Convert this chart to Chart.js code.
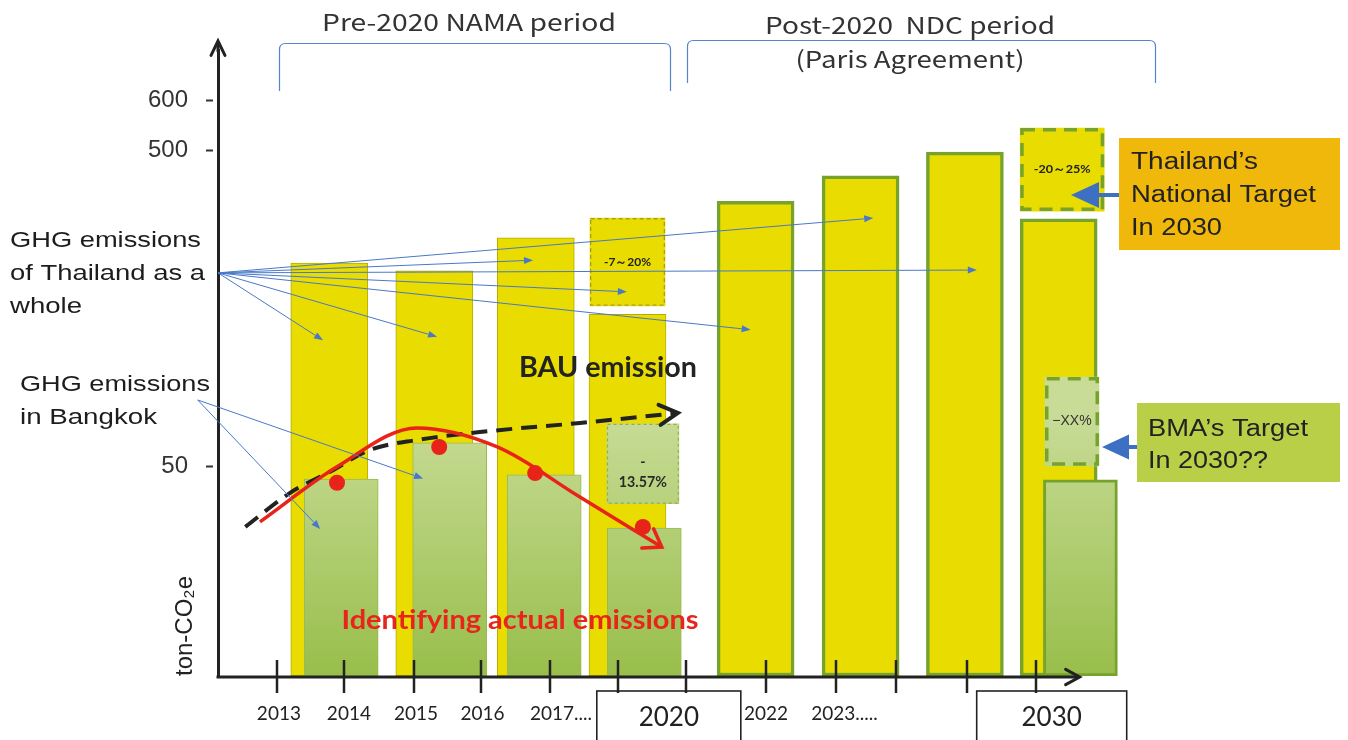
<!DOCTYPE html>
<html>
<head>
<meta charset="utf-8">
<title>GHG emissions: Thailand and Bangkok</title>
<script src="https://cdn.jsdelivr.net/npm/chart.js@4.4.1/dist/chart.umd.min.js"></script>
<style>
  html, body { margin: 0; padding: 0; background: #ffffff; }
  #chart { display: block; }
</style>
</head>
<body>
<canvas id="chart" width="1348" height="740"></canvas>
<script>
// ---------------- values ----------------
// Time axis: labels and tick marks, placed on a schematic "slot" scale
const yearLabels     = ['2013', '2014', '2015', '2016', '2017....', '2020', '2022', '2023.....', '2030'];
const yearLabelSlots = [0.87, 1.87, 2.83, 3.78, 4.9, 6.44, 7.83, 8.95, 11.91];
const yearTickSlots  = [0.84, 1.8, 2.8, 3.76, 4.74, 5.71, 6.69, 7.83, 8.83, 9.69, 10.7, 11.69];
const boxedYears     = ['2020', '2030'];

// Emission axis (ton-CO2e) tick values
const yTickValues = [50, 500, 600];

// GHG emissions of Thailand as a whole
const thaiSlots  = [1.59, 3.09, 4.54, 5.85, 7.68, 9.18, 10.67, 12.01];
const thaiValues = [339, 328, 375, 266, 427, 463, 497, 402];

// National reduction targets stacked above the 2020 and 2030 bars: [from, to]
const thaiTargetSlots  = [5.85, 12.06];
const thaiTargetRanges = [[278, 403], [413, 544]];
const thaiTargetLabels = ['-7～20%', '-20～25%'];

// GHG emissions in Bangkok
const bkkSlots  = [1.76, 3.31, 4.66, 6.09, 12.32];
const bkkValues = [46.9, 82.8, 47.9, 35.2, 46.7];

// Bangkok reduction targets: [from, to]
const bkkTargetSlots  = [6.07, 12.2];
const bkkTargetRanges = [[41, 110], [50.2, 176.7]];
const bkkTargetLabels = ['-\n13.57%', '−XX%'];

// BAU emission path
const bauSlots  = [0.39, 1.03, 1.6, 2.17, 2.84, 3.89, 5.17, 6.57];
const bauValues = [35.5, 43.6, 48.6, 72.8, 87, 99.8, 111.2, 125.5];

// Identified actual emissions (trend curve and measured points)
const actualTrendSlots  = [0.6, 1.7, 2.84, 3.99, 5.17, 6.34];
const actualTrendValues = [36.7, 49.8, 104.1, 77.1, 42.6, 30.7];
const actualSlots  = [1.7, 3.16, 4.53, 6.07];
const actualValues = [46, 77, 48.3, 35.5];

// Callout pointers (slot, emission) from the left-hand captions into the bars
const thaiPointerFrom = [0, 325];
const thaiPointerTo = [[1.5, 229], [3.13, 234], [4.5, 343], [5.84, 298], [7.61, 244], [9.36, 403], [10.84, 329]];
const bkkPointerFrom = [-0.29, 144];
const bkkPointerTo = [[1.46, 35], [2.93, 47]];

// ---------------- broken emission scale ----------------
// The emission axis is compressed above 50 and again above 500.
const Y_BREAK_VALUES = [0, 50, 500, 600, 700];
const Y_BREAK_FRACS  = [0, 0.3355, 0.8403, 0.9201, 1];

function piecewise(v, from, to) {
  for (let i = 1; i < from.length; i++) {
    if (v <= from[i] || i === from.length - 1) {
      const t = (v - from[i - 1]) / (from[i] - from[i - 1]);
      return to[i - 1] + t * (to[i] - to[i - 1]);
    }
  }
  return 0;
}

class BrokenLinearScale extends Chart.LinearScale {
  getPixelForValue(value) {
    return this.getPixelForDecimal(piecewise(value, Y_BREAK_VALUES, Y_BREAK_FRACS));
  }
  getValueForPixel(pixel) {
    return piecewise(this.getDecimalForPixel(pixel), Y_BREAK_FRACS, Y_BREAK_VALUES);
  }
}
BrokenLinearScale.id = 'brokenLinear';
BrokenLinearScale.defaults = {};
Chart.register(BrokenLinearScale);

// ---------------- helpers ----------------
const xy = (slots, values) => slots.map((x, i) => ({ x, y: values[i] }));

const YELLOW = '#e8dc00';
const PROJ_GREEN = '#77a22c';

function bangkokFill(context) {
  const chart = context.chart;
  const area = chart.chartArea;
  if (!area) return '#b0cc68';
  const g = chart.ctx.createLinearGradient(0, area.top + (area.bottom - area.top) * 0.58, 0, area.bottom);
  g.addColorStop(0, '#c8dc97');
  g.addColorStop(1, '#98be4b');
  return g;
}

// Draw text, optionally stretched horizontally to a given width
function drawText(c, text, x, y, font, color, align, width, sx) {
  c.save();
  c.font = font;
  c.fillStyle = color;
  c.textBaseline = 'middle';
  c.textAlign = align;
  let k = sx || 1;
  if (width) k = width / c.measureText(text).width;
  c.translate(x, y);
  c.scale(k, 1);
  c.fillText(text, 0, 0);
  c.restore();
}

function filledArrow(c, x1, y1, x2, y2, color, lw, headLen, headW) {
  const a = Math.atan2(y2 - y1, x2 - x1);
  const bx = x2 - headLen * Math.cos(a), by = y2 - headLen * Math.sin(a);
  c.save();
  c.strokeStyle = color; c.fillStyle = color; c.lineWidth = lw;
  c.beginPath(); c.moveTo(x1, y1); c.lineTo(bx, by); c.stroke();
  c.beginPath();
  c.moveTo(x2, y2);
  c.lineTo(bx + headW / 2 * Math.sin(a), by - headW / 2 * Math.cos(a));
  c.lineTo(bx - headW / 2 * Math.sin(a), by + headW / 2 * Math.cos(a));
  c.closePath(); c.fill();
  c.restore();
}

function chevron(c, x, y, ang, len, spread, color, lw) {
  c.save();
  c.strokeStyle = color; c.lineWidth = lw; c.lineCap = 'round'; c.lineJoin = 'miter';
  c.setLineDash([]);
  c.beginPath();
  c.moveTo(x + len * Math.cos(ang + Math.PI - spread), y + len * Math.sin(ang + Math.PI - spread));
  c.lineTo(x, y);
  c.lineTo(x + len * Math.cos(ang + Math.PI + spread), y + len * Math.sin(ang + Math.PI + spread));
  c.stroke();
  c.restore();
}

// ---------------- overlay plugin ----------------
const overlay = {
  id: 'overlay',
  afterDatasetDraw(chart, args) {
    const ds = chart.data.datasets[args.index];
    if (!ds.outline) return;
    const c = chart.ctx;
    const o = ds.outline;
    args.meta.data.forEach((el, i) => {
      const p = el.getProps(['x', 'y', 'base', 'width'], true);
      const top = Math.min(p.y, p.base), h = Math.abs(p.base - p.y);
      c.save();
      c.strokeStyle = o.color; c.lineWidth = o.width; c.setLineDash(o.dash);
      c.strokeRect(p.x - p.width / 2 + o.width / 2, top + o.width / 2, p.width - o.width, h - o.width);
      c.restore();
      if (ds.boxLabels && ds.boxLabels[i]) {
        const lines = ds.boxLabels[i].split('\n');
        const cy = top + h / 2 - (lines.length - 1) * o.lineGap / 2 + o.shift;
        lines.forEach((t, k) => drawText(c, t, p.x, cy + k * o.lineGap, o.font, o.textColor, 'center', null, o.stretch));
      }
    });
  },
  afterDraw(chart) {
    const c = chart.ctx;
    const xs = chart.scales.x, ys = chart.scales.y;
    const area = chart.chartArea;
    const px = s => xs.getPixelForValue(s);
    const py = v => ys.getPixelForValue(v);
    const axisY = area.bottom + 1;

    // time axis line with arrow
    c.save();
    c.strokeStyle = '#222'; c.lineWidth = 3;
    c.beginPath(); c.moveTo(area.left - 1.5, axisY); c.lineTo(px(12.3), axisY); c.stroke();
    c.restore();
    chevron(c, px(12.31), axisY, 0, 16, 0.5, '#222', 3);

    // emission axis extension with arrow
    c.save();
    c.strokeStyle = '#222'; c.lineWidth = 3;
    c.beginPath(); c.moveTo(area.left, area.top + 2); c.lineTo(area.left, area.top - 8); c.stroke();
    c.restore();
    chevron(c, area.left, area.top - 9, -Math.PI / 2, 16, 0.45, '#222', 3);

    // short dashes beside the emission tick labels
    c.save();
    c.strokeStyle = '#333'; c.lineWidth = 2;
    ys.ticks.forEach(t => {
      const y = Math.round(py(t.value)) + 0.5;
      c.beginPath(); c.moveTo(area.left - 12, y); c.lineTo(area.left - 5, y); c.stroke();
    });
    c.restore();

    // tick marks across the time axis
    c.save();
    c.strokeStyle = '#222'; c.lineWidth = 2.5;
    yearTickSlots.forEach(s => {
      const x = Math.round(px(s));
      c.beginPath(); c.moveTo(x, axisY - 17); c.lineTo(x, axisY + 16); c.stroke();
    });
    c.restore();

    // frames around the milestone years
    c.save();
    c.strokeStyle = '#222'; c.lineWidth = 1.6;
    yearLabels.forEach((lab, i) => {
      if (!boxedYears.includes(lab)) return;
      const cx = px(yearLabelSlots[i]);
      const half = lab === '2020' ? 72 : 75;
      c.strokeRect(cx - half, axisY + 14, half * 2, 60);
    });
    c.restore();

    // arrow heads at the ends of the BAU and actual-emission curves
    chart.data.datasets.forEach((ds, i) => {
      if (!ds.arrowHead) return;
      const pts = chart.getDatasetMeta(i).data;
      const last = pts[pts.length - 1];
      const prev = pts[pts.length - 2];
      const useCp = last.cp1x !== undefined && Math.abs(last.cp1x - last.x) > 0.5;
      const rx = useCp ? last.cp1x : prev.x;
      const ry = useCp ? last.cp1y : prev.y;
      const ang = Math.atan2(last.y - ry, last.x - rx);
      chevron(c, last.x, last.y, ang, ds.arrowHead.len, ds.arrowHead.spread, ds.borderColor, ds.arrowHead.width);
    });

    // thin callout pointers
    const BLUE = '#4a78c9';
    thaiPointerTo.forEach(([s, v]) =>
      filledArrow(c, px(thaiPointerFrom[0]), py(thaiPointerFrom[1]), px(s), py(v), BLUE, 1, 9, 7));
    bkkPointerTo.forEach(([s, v]) =>
      filledArrow(c, px(bkkPointerFrom[0]), py(bkkPointerFrom[1]), px(s), py(v), BLUE, 1, 9, 7));

    // period brackets along the top
    c.save();
    c.strokeStyle = '#5585cc'; c.lineWidth = 1.2;
    const bracket = (x1, x2, yTop, yBot) => {
      c.beginPath();
      c.moveTo(x1, yBot); c.lineTo(x1, yTop + 6);
      c.quadraticCurveTo(x1, yTop, x1 + 6, yTop);
      c.lineTo(x2 - 6, yTop);
      c.quadraticCurveTo(x2, yTop, x2, yTop + 6);
      c.lineTo(x2, yBot);
      c.stroke();
    };
    bracket(279.5, 670.5, 43.5, 91);
    bracket(687.5, 1155.5, 40.5, 83);
    c.restore();

    const JP = '"Noto Sans CJK JP", "Noto Sans", sans-serif';
    drawText(c, 'Pre-2020 NAMA period', 469, 22, '23px ' + JP, '#333', 'center', 294);
    drawText(c, 'Post-2020  NDC period', 910, 25, '23px ' + JP, '#333', 'center', 290);
    drawText(c, '(Paris Agreement)', 910, 59, '23px ' + JP, '#333', 'center', 229);

    // left-hand captions
    const SANS = '"Liberation Sans", Arial, sans-serif';
    drawText(c, 'GHG emissions', 10, 241, '22px ' + SANS, '#1d1d1d', 'left', 191);
    drawText(c, 'of Thailand as a', 10, 274, '22px ' + SANS, '#1d1d1d', 'left', 195);
    drawText(c, 'whole', 10, 307, '22px ' + SANS, '#1d1d1d', 'left', 72);
    drawText(c, 'GHG emissions', 20, 385, '22px ' + SANS, '#1d1d1d', 'left', 190);
    drawText(c, 'in Bangkok', 20, 418, '22px ' + SANS, '#1d1d1d', 'left', 137);

    // curve captions
    drawText(c, 'BAU emission', 608, 368, 'bold 28px Lato, sans-serif', '#232323', 'center', 178);
    drawText(c, 'Identifying actual emissions', 520, 620, 'bold 27px Lato, sans-serif', '#e8251c', 'center', 357);

    // target call-out boxes
    c.save();
    c.fillStyle = '#f1b80c';
    c.fillRect(1119, 138, 221, 112);
    c.fillStyle = '#b8cf47';
    c.fillRect(1137, 403, 203, 79);
    c.restore();
    drawText(c, 'Thailand’s', 1131, 163, '23px ' + SANS, '#222', 'left', 127);
    drawText(c, 'National Target', 1131, 196, '23px ' + SANS, '#222', 'left', 185);
    drawText(c, 'In 2030', 1131, 229, '23px ' + SANS, '#222', 'left', 91);
    drawText(c, 'BMA’s Target', 1148, 430, '23px ' + SANS, '#222', 'left', 160);
    drawText(c, 'In 2030??', 1148, 462, '23px ' + SANS, '#222', 'left', 120);

    filledArrow(c, 1119, 195, 1071, 195, '#3d70c3', 4, 28, 26);
    filledArrow(c, 1137, 447, 1102, 447, '#3d70c3', 4, 27, 25);
  }
};

// ---------------- chart ----------------
new Chart(document.getElementById('chart'), {
  type: 'bar',
  data: {
    datasets: [
      {
        type: 'scatter', label: 'Actual emissions (Bangkok)',
        data: xy(actualSlots, actualValues),
        pointRadius: 8, pointBackgroundColor: '#e8231a', pointBorderWidth: 0,
        order: 0
      },
      {
        type: 'line', label: 'Actual emission trend',
        data: xy(actualTrendSlots, actualTrendValues),
        borderColor: '#e8231a', borderWidth: 3.5, cubicInterpolationMode: 'monotone',
        pointRadius: 0, fill: false, order: 1,
        arrowHead: { len: 20, spread: 0.6, width: 3.5 }
      },
      {
        type: 'line', label: 'BAU emission',
        data: xy(bauSlots, bauValues),
        borderColor: '#222', borderWidth: 4, borderDash: [16, 9], cubicInterpolationMode: 'monotone',
        pointRadius: 0, fill: false, order: 1,
        arrowHead: { len: 21, spread: 0.5, width: 4 }
      },
      {
        label: 'Bangkok target 2030',
        data: [{ x: bkkTargetSlots[1], y: bkkTargetRanges[1] }],
        backgroundColor: bangkokFill, borderWidth: 0,
        barThickness: 54, grouped: false, order: 2,
        outline: { color: PROJ_GREEN, width: 3.5, dash: [13, 8], font: '14px "Liberation Sans", Arial, sans-serif', textColor: '#333', stretch: 1.0, lineGap: 20, shift: 0 },
        boxLabels: [bkkTargetLabels[1]]
      },
      {
        label: 'Bangkok target 2020',
        data: [{ x: bkkTargetSlots[0], y: bkkTargetRanges[0] }],
        backgroundColor: bangkokFill, borderWidth: 0,
        barThickness: 72, grouped: false, order: 2,
        outline: { color: '#93ad4c', width: 1.2, dash: [3, 3], font: 'bold 15px Lato, sans-serif', textColor: '#2a2a2a', stretch: 0.95, lineGap: 20, shift: 8 },
        boxLabels: [bkkTargetLabels[0]]
      },
      {
        label: 'GHG emissions in Bangkok',
        data: xy(bkkSlots, bkkValues),
        backgroundColor: bangkokFill,
        borderColor: ctx => ctx.dataIndex === bkkSlots.length - 1 ? PROJ_GREEN : '#9cb94e',
        borderWidth: ctx => ctx.dataIndex === bkkSlots.length - 1 ? 3 : 1,
        borderSkipped: false,
        barThickness: 74, grouped: false, order: 3
      },
      {
        label: 'National target 2030',
        data: [{ x: thaiTargetSlots[1], y: thaiTargetRanges[1] }],
        backgroundColor: YELLOW, borderWidth: 0,
        barThickness: 84, grouped: false, order: 4,
        outline: { color: PROJ_GREEN, width: 3.5, dash: [13, 8], font: 'bold 12px Lato, sans-serif', textColor: '#222', stretch: 1.05, lineGap: 16, shift: 0 },
        boxLabels: [thaiTargetLabels[1]]
      },
      {
        label: 'National target 2020',
        data: [{ x: thaiTargetSlots[0], y: thaiTargetRanges[0] }],
        backgroundColor: YELLOW, borderWidth: 0,
        barThickness: 75, grouped: false, order: 4,
        outline: { color: '#a99e1c', width: 1.3, dash: [4, 3], font: 'bold 12px Lato, sans-serif', textColor: '#222', stretch: 1.0, lineGap: 16, shift: 0 },
        boxLabels: [thaiTargetLabels[0]]
      },
      {
        label: 'GHG emissions of Thailand as a whole',
        data: xy(thaiSlots, thaiValues),
        backgroundColor: YELLOW,
        borderColor: ctx => ctx.dataIndex < 4 ? '#b7ad00' : PROJ_GREEN,
        borderWidth: ctx => ctx.dataIndex < 4 ? 1 : 3.5,
        borderSkipped: false,
        barThickness: 77, grouped: false, order: 5
      }
    ]
  },
  options: {
    responsive: false,
    animation: false,
    events: [],
    layout: { padding: { left: 100, right: 220, top: 50, bottom: 0 } },
    plugins: { legend: { display: false }, tooltip: { enabled: false } },
    scales: {
      x: {
        type: 'linear', min: 0, max: 13, offset: false,
        afterBuildTicks: s => { s.ticks = yearLabelSlots.map(v => ({ value: v })); },
        afterFit: s => { s.height = 64; },
        grid: { display: false, drawTicks: false },
        border: { display: false },
        ticks: {
          autoSkip: false, maxRotation: 0, minRotation: 0, padding: 26, color: '#222',
          font: ctx => boxedYears.includes(yearLabels[ctx.index])
            ? { family: 'Lato', size: 26 }
            : { family: 'Lato', size: 19 },
          callback: (v, i) => yearLabels[i]
        }
      },
      y: {
        type: 'brokenLinear', min: 0, max: 700,
        afterBuildTicks: s => { s.ticks = yTickValues.map(v => ({ value: v })); },
        afterFit: s => { s.width = 118; },
        grid: { display: false, drawTicks: false },
        border: { display: true, color: '#222', width: 3 },
        ticks: {
          padding: 30, color: '#333',
          font: { family: 'Liberation Sans', size: 24 },
          callback: v => String(v)
        },
        title: {
          display: true, text: 'ton-CO₂e', align: 'start', color: '#222',
          font: { family: 'Liberation Sans', size: 24 },
          padding: { top: 71, bottom: 0 }
        }
      }
    }
  },
  plugins: [overlay]
});
</script>
</body>
</html>
